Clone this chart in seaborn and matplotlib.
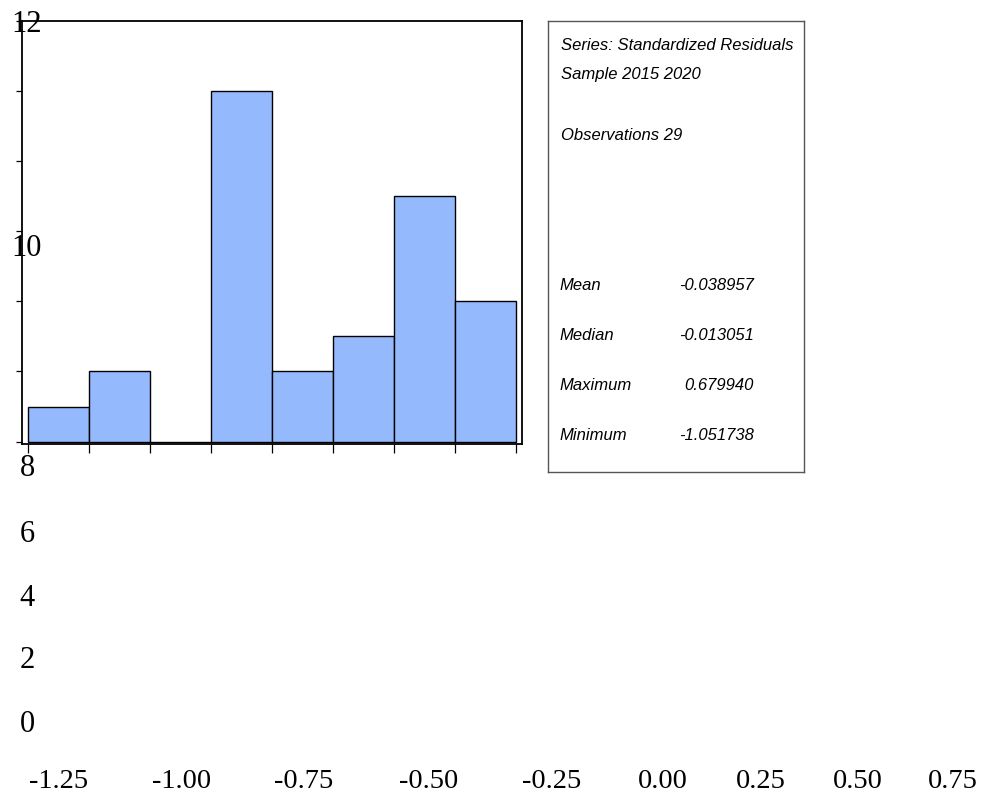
import numpy as np
import matplotlib
matplotlib.use("Agg")
import matplotlib.pyplot as plt
import seaborn as sns

# histogram data (bin edges and counts)
bin_edges = [-1.25, -1.00, -0.75, -0.50, -0.25, 0.00, 0.25, 0.50, 0.75]
counts = [1, 2, 0, 10, 2, 3, 7, 4]
bin_centers = [(a + b) / 2 for a, b in zip(bin_edges[:-1], bin_edges[1:])]

y_tick_vals = [0, 2, 4, 6, 8, 10, 12]
y_labels = ["12", "10", "8", "6", "4", "2", "0"]
x_labels = ["-1.25", "-1.00", "-0.75", "-0.50", "-0.25", "0.00", "0.25", "0.50", "0.75"]

stat_header = ["Series: Standardized Residuals", "Sample 2015 2020", "Observations 29"]
stat_names = ["Mean", "Median", "Maximum", "Minimum"]
stat_values = ["-0.038957", "-0.013051", "0.679940", "-1.051738"]

W, H = 988, 799
def fx(px):
    return px / W
def fy(py):
    return 1 - py / H

sns.set_style("white")
fig = plt.figure(figsize=(W / 100, H / 100), dpi=100)

# main histogram axes
ax = fig.add_axes([fx(22), fy(444), fx(522) - fx(22), fy(21) - fy(444)])
sns.histplot(x=bin_centers, weights=counts, bins=bin_edges, ax=ax,
             color="#94bafd", alpha=1, edgecolor="black", linewidth=1.0)
ax.set_xlim(-1.2746, 0.7746)
ax.set_ylim(-0.07, 12)
ax.set_xticks(bin_edges)
ax.set_yticks(y_tick_vals)
ax.tick_params(axis="x", direction="out", length=6.5, width=0.9, color="black",
               labelbottom=False, bottom=True)
ax.tick_params(axis="y", direction="out", length=4.5, width=0.9, color="black",
               labelleft=False, left=True)
ax.set_xlabel("")
ax.set_ylabel("")
for s in ax.spines.values():
    s.set_color("black")
    s.set_linewidth(1.3)

# displaced tick labels, as in the reference
y_label_pos = [24, 248, 469, 534, 598, 661, 725]
for lab, py in zip(y_labels, y_label_pos):
    fig.text(fx(27), fy(py), lab, ha="center", va="center",
             fontsize=22, family="Liberation Serif", color="black")

x_label_pos = [59, 182, 304, 429, 552, 663, 761, 858, 953]
for lab, px in zip(x_labels, x_label_pos):
    fig.text(fx(px), fy(782), lab, ha="center", va="center",
             fontsize=20.5, family="Liberation Serif", color="black")

# statistics box
bx0, bx1, by0, by1 = 548, 804, 21, 472
sax = fig.add_axes([fx(bx0), fy(by1), fx(bx1) - fx(bx0), fy(by0) - fy(by1)])
sax.set_xlim(bx0, bx1)
sax.set_ylim(by1, by0)
sax.set_xticks([])
sax.set_yticks([])
for s in sax.spines.values():
    s.set_color("#555555")
    s.set_linewidth(1.0)

txt = dict(fontsize=12, family="Liberation Sans", style="italic", color="black",
           va="center", clip_on=True)
for line, py in zip(stat_header, [45, 75, 135]):
    sax.text(561, py, line, ha="left", **txt)
for name, val, py in zip(stat_names, stat_values, [285, 335, 385, 436]):
    sax.text(559, py, name, ha="left", **txt)
    sax.text(754, py, val, ha="right", **txt)

fig.savefig("out.png", dpi=100)
